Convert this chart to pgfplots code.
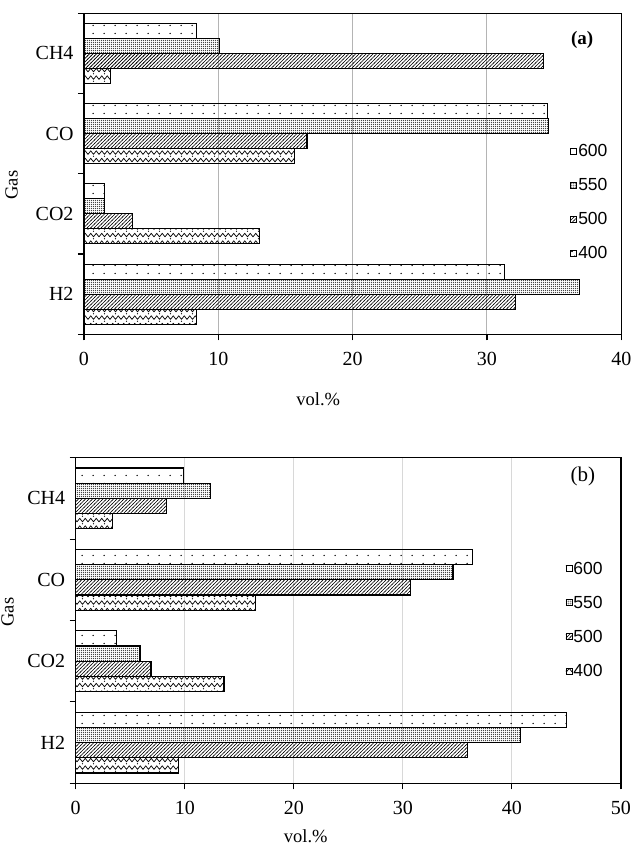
\documentclass[border=0pt]{standalone}
\usepackage{fontspec}
\setmainfont{Liberation Serif}
\newfontfamily\legfont{Liberation Sans}
\usepackage{pgfplots}
\pgfplotsset{compat=1.18}
\usetikzlibrary{patterns}

\pgfdeclarepatternformonly{sparsedots}{\pgfqpoint{0pt}{0pt}}{\pgfqpoint{11pt}{7.5pt}}{\pgfqpoint{11pt}{7.5pt}}{%
  \pgfpathcircle{\pgfqpoint{5.5pt}{3.75pt}}{0.8pt}\pgfusepath{fill}}
\pgfdeclarepatternformonly{densedots}{\pgfqpoint{0pt}{0pt}}{\pgfqpoint{2.1pt}{2.1pt}}{\pgfqpoint{2.1pt}{2.1pt}}{%
  \pgfpathcircle{\pgfqpoint{1.05pt}{1.05pt}}{0.72pt}\pgfusepath{fill}}
\pgfdeclarepatternformonly{diaglines}{\pgfqpoint{-0.5pt}{-0.5pt}}{\pgfqpoint{4pt}{4pt}}{\pgfqpoint{3.5pt}{3.5pt}}{%
  \pgfsetlinewidth{0.7pt}\pgfpathmoveto{\pgfqpoint{-0.5pt}{-0.5pt}}\pgfpathlineto{\pgfqpoint{4pt}{4pt}}\pgfusepath{stroke}}
\pgfdeclarepatternformonly{zigzag}{\pgfqpoint{-0.5pt}{-0.5pt}}{\pgfqpoint{11.5pt}{8pt}}{\pgfqpoint{11pt}{7.5pt}}{%
  \pgfsetlinewidth{0.7pt}\pgfsetroundjoin
  \pgfpathmoveto{\pgfqpoint{0pt}{2.6pt}}\pgfpathlineto{\pgfqpoint{2.75pt}{6.2pt}}\pgfpathlineto{\pgfqpoint{5.5pt}{2.6pt}}%
  \pgfpathlineto{\pgfqpoint{8.25pt}{6.2pt}}\pgfpathlineto{\pgfqpoint{11pt}{2.6pt}}\pgfusepath{stroke}%
  \pgfpathcircle{\pgfqpoint{5.5pt}{0.8pt}}{0.65pt}\pgfusepath{fill}}

\definecolor{gridA}{HTML}{B4B4B4}
\definecolor{gridB}{HTML}{D8D8D8}

\pgfplotsset{
  gasstyle/.style={
    scale only axis, anchor=south west,
    xbar, ymin=-0.5, ymax=3.5,
    ytick={-0.5,0.5,1.5,2.5,3.5}, yticklabels={},
    extra y ticks={0,1,2,3}, extra y tick labels={H2,CO2,CO,CH4},
    extra y tick style={major tick length=0pt, yticklabel style={xshift=-7pt}},
    tick align=outside, major tick length=6pt,
    xtick pos=bottom, ytick pos=left,
    xmajorgrids, ymajorgrids=false,
    axis line style={line width=1.1pt},
    tick style={line width=1.1pt, black},
    /pgf/number format/assume math mode=true,
    tick label style={font=\fontsize{20}{22}\selectfont},
    xticklabel style={yshift=-8pt},
    label style={font=\fontsize{18.5}{21}\selectfont},
    bar width=0.187,
    reverse legend,
    legend cell align=left,
    legend image code/.code={\draw[##1,line width=0.8pt] (0pt,-3pt) rectangle (6pt,3pt);},
    legend style={draw=none, fill=none, anchor=north west, inner sep=0pt,
      font=\legfont\fontsize{17.5}{19}\selectfont, row sep=18.4pt,
      nodes={inner sep=1pt},
      /tikz/every even column/.append style={column sep=0pt}},
  },
  b400/.style={draw=black, line width=1.1pt, pattern=zigzag, bar shift=-0.2805},
  b500/.style={draw=black, line width=1.1pt, pattern=diaglines, bar shift=-0.0935},
  b550/.style={draw=black, line width=1.1pt, pattern=densedots, bar shift=0.0935},
  b600/.style={draw=black, line width=1.1pt, pattern=sparsedots, bar shift=0.2805},
}

\begin{document}
\begin{tikzpicture}
\path[use as bounding box] (0pt,0pt) rectangle (633pt,847pt);

% (a)
\begin{axis}[gasstyle,
  at={(84pt,512.7pt)}, width=537.3pt, height=321pt,
  xmin=0, xmax=40, xtick={0,10,20,30,40},
  grid style={gridA, line width=1pt},
  xlabel={vol.\%}, ylabel={Gas},
  xlabel style={at={(axis description cs:0.436,0)}, anchor=center, yshift=-64.7pt},
  ylabel style={at={(axis description cs:-0.135,0.465)}, anchor=center, rotate=0},
  legend style={at={(axis description cs:0.905,0.596)}},
]
\addplot[b400] coordinates {(8.35,0) (13.05,1) (15.7,2) (2.0,3)};
\addplot[b500] coordinates {(32.1,0) (3.6,1) (16.6,2) (34.2,3)};
\addplot[b550] coordinates {(36.9,0) (1.5,1) (34.6,2) (10.1,3)};
\addplot[b600] coordinates {(31.3,0) (1.5,1) (34.5,2) (8.4,3)};
\legend{400,500,550,600}
\node[font=\bfseries\fontsize{19}{21}\selectfont] at (axis description cs:0.927,0.917) {(a)};
\end{axis}

% (b)
\begin{axis}[gasstyle,
  at={(75.7pt,63.7pt)}, width=545.3pt, height=325.6pt,
  xmin=0, xmax=50, xtick={0,10,20,30,40,50},
  grid style={gridB, line width=1pt},
  xlabel={vol.\%}, ylabel={Gas},
  xlabel style={at={(axis description cs:0.422,0)}, anchor=center, yshift=-53pt},
  ylabel style={at={(axis description cs:-0.125,0.526)}, anchor=center, rotate=0},
  legend style={at={(axis description cs:0.898,0.684)}},
]
\addplot[b400] coordinates {(9.4,0) (13.6,1) (16.5,2) (3.4,3)};
\addplot[b500] coordinates {(35.9,0) (6.9,1) (30.7,2) (8.3,3)};
\addplot[b550] coordinates {(40.8,0) (5.9,1) (34.6,2) (12.4,3)};
\addplot[b600] coordinates {(45.0,0) (3.7,1) (36.4,2) (9.85,3)};
\legend{400,500,550,600}
\node[font=\fontsize{21}{23}\selectfont] at (axis description cs:0.930,0.941) {(b)};
\end{axis}
\end{tikzpicture}
\end{document}
